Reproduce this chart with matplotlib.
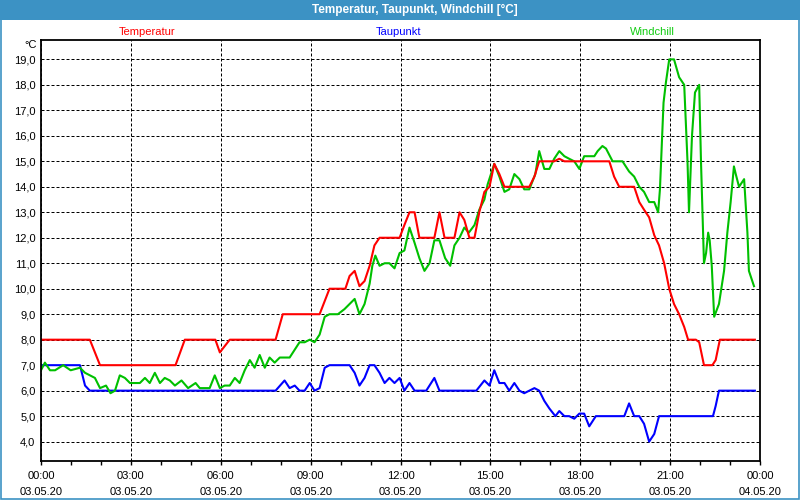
import matplotlib

matplotlib.use("Agg")
import matplotlib.dates as mdates
import matplotlib.pyplot as plt
import pandas as pd
from matplotlib.patches import Rectangle
from matplotlib.ticker import FuncFormatter, MultipleLocator

plt.rcParams["font.family"] = ["Liberation Sans", "DejaVu Sans"]

DAY = pd.Timestamp("2020-05-03")

# Temperatur (hours since 03.05.20 00:00, °C)
temp_hours = [0, 1.63, 1.97, 4.49, 4.8, 5.82, 5.97, 6.1, 6.3, 7.83, 8.07, 9.3, 9.63,
              10.16, 10.3, 10.47, 10.63, 10.8, 10.97, 11.13, 11.3, 11.97, 12.13, 12.3,
              12.47, 12.63, 13.13, 13.3, 13.47, 13.8, 13.97, 14.13, 14.3, 14.47, 14.63,
              14.8, 14.97, 15.13, 15.3, 15.47, 16.3, 16.47, 16.63, 17.13, 17.3, 17.47,
              18.97, 19.13, 19.3, 19.8, 19.97, 20.13, 20.3, 20.47, 20.63, 20.8, 20.97,
              21.13, 21.3, 21.47, 21.6, 21.86, 21.97, 22.13, 22.41, 22.52, 22.66, 23.83]
temp_values = [8.0, 8.0, 7.0, 7.0, 8.0, 8.0, 7.5, 7.7, 8.0, 8.0, 9.0, 9.0, 10.0,
               10.0, 10.5, 10.7, 10.1, 10.3, 10.9, 11.7, 12.0, 12.0, 12.5, 13.0,
               13.0, 12.0, 12.0, 13.0, 12.0, 12.0, 13.0, 12.7, 12.0, 12.0, 13.0,
               13.8, 14.0, 14.9, 14.5, 14.0, 14.0, 14.4, 15.0, 15.0, 15.1, 15.0,
               15.0, 14.4, 14.0, 14.0, 13.4, 13.1, 12.8, 12.1, 11.7, 11.0, 10.0,
               9.4, 9.0, 8.5, 8.0, 8.0, 7.9, 7.0, 7.0, 7.2, 8.0, 8.0]

# Taupunkt
dew_hours = [0, 1.3, 1.47, 1.63, 7.83, 8.13, 8.3, 8.47, 8.63, 8.8, 8.97, 9.13, 9.3,
             9.47, 9.63, 10.3, 10.47, 10.63, 10.8, 10.97, 11.13, 11.3, 11.47, 11.63,
             11.8, 11.97, 12.13, 12.3, 12.47, 12.86, 13.13, 13.3, 14.53, 14.8, 14.97,
             15.13, 15.3, 15.47, 15.63, 15.8, 15.97, 16.13, 16.3, 16.47, 16.63, 16.8,
             16.97, 17.17, 17.3, 17.47, 17.63, 17.8, 17.97, 18.13, 18.3, 18.52, 19.19,
             19.47, 19.63, 19.8, 19.97, 20.13, 20.3, 20.47, 20.63, 22.43, 22.52, 22.63,
             23.83]
dew_values = [7.0, 7.0, 6.2, 6.0, 6.0, 6.4, 6.1, 6.2, 6.0, 6.0, 6.3, 6.0, 6.1,
              6.9, 7.0, 7.0, 6.7, 6.2, 6.5, 7.0, 7.0, 6.7, 6.3, 6.5,
              6.3, 6.5, 6.0, 6.3, 6.0, 6.0, 6.5, 6.0, 6.0, 6.4, 6.2,
              6.8, 6.3, 6.3, 6.0, 6.3, 6.0, 5.9, 6.0, 6.1, 6.0, 5.6,
              5.3, 5.0, 5.2, 5.0, 5.0, 4.9, 5.1, 5.1, 4.6, 5.0, 5.0,
              5.0, 5.5, 5.0, 5.0, 4.7, 4.0, 4.3, 5.0, 5.0, 5.4, 6.0,
              6.0]

# Windchill
chill_hours = [0, 0.13, 0.3, 0.47, 0.74, 0.99, 1.3, 1.47, 1.8, 1.97, 2.17, 2.32, 2.47,
               2.63, 2.8, 2.97, 3.13, 3.3, 3.47, 3.63, 3.8, 3.97, 4.13, 4.3, 4.47, 4.69,
               4.91, 5.16, 5.3, 5.47, 5.63, 5.8, 5.97, 6.13, 6.3, 6.47, 6.63, 6.8, 6.97,
               7.13, 7.3, 7.47, 7.63, 7.8, 7.97, 8.3, 8.63, 8.8, 8.97, 9.13, 9.3, 9.47,
               9.63, 9.91, 10.13, 10.3, 10.47, 10.63, 10.8, 10.97, 11.06, 11.16, 11.3,
               11.47, 11.63, 11.8, 11.97, 12.13, 12.3, 12.47, 12.63, 12.8, 12.97, 13.13,
               13.3, 13.49, 13.66, 13.8, 13.97, 14.13, 14.28, 14.47, 14.63, 14.8, 14.91,
               15.13, 15.3, 15.47, 15.63, 15.8, 15.97, 16.13, 16.3, 16.5, 16.63, 16.8,
               16.97, 17.13, 17.3, 17.47, 17.63, 17.8, 17.97, 18.13, 18.3, 18.47, 18.58,
               18.74, 18.86, 19.08, 19.41, 19.63, 19.8, 19.97, 20.13, 20.3, 20.47, 20.6,
               20.66, 20.72, 20.78, 20.86, 20.97, 21.13, 21.3, 21.47, 21.58, 21.63, 21.73,
               21.83, 21.97, 22.03, 22.13, 22.2, 22.27, 22.32, 22.39, 22.47, 22.63, 22.8,
               22.91, 23.02, 23.13, 23.19, 23.3, 23.47, 23.58, 23.63, 23.8]
chill_values = [6.8, 7.1, 6.8, 6.8, 7.0, 6.8, 6.9, 6.7, 6.5, 6.1, 6.2, 5.9, 6.0,
                6.6, 6.5, 6.3, 6.3, 6.3, 6.5, 6.3, 6.7, 6.3, 6.5, 6.4, 6.2, 6.4,
                6.1, 6.3, 6.1, 6.1, 6.1, 6.6, 6.1, 6.2, 6.2, 6.5, 6.3, 6.8, 7.2,
                6.9, 7.4, 6.9, 7.3, 7.1, 7.3, 7.3, 7.9, 7.9, 8.0, 7.9, 8.2, 8.9,
                9.0, 9.0, 9.2, 9.4, 9.6, 9.0, 9.4, 10.2, 10.9, 11.3, 10.9,
                11.0, 11.0, 10.8, 11.4, 11.5, 12.4, 11.8, 11.2, 10.7, 11.0, 11.9,
                11.9, 11.2, 10.9, 11.7, 12.0, 12.4, 12.2, 12.5, 13.1, 13.5, 14.1,
                14.9, 14.4, 13.8, 13.9, 14.5, 14.3, 13.9, 13.9, 14.5, 15.4, 14.7,
                14.7, 15.1, 15.4, 15.2, 15.1, 15.0, 14.7, 15.2, 15.2, 15.2, 15.4,
                15.6, 15.5, 15.0, 15.0, 14.6, 14.4, 14.0, 13.8, 13.4, 13.4, 13.0,
                13.9, 15.6, 17.3, 18.1, 19.0, 19.0, 18.3, 18.0, 15.0, 13.0, 16.0,
                17.7, 18.0, 15.0, 11.0, 11.4, 12.2, 11.9, 10.9, 8.9, 9.4, 10.7,
                12.2, 13.4, 14.8, 14.5, 14.0, 14.3, 12.2, 10.7, 10.1]

series_names = ["Temperatur", "Taupunkt", "Windchill"]
series_colors = ["#ff0000", "#0000ff", "#00c000"]
label_colors = ["#ff0000", "#0000ff", "#11cc11"]


def to_times(hours):
    return DAY + pd.to_timedelta(hours, unit="h")


def main():
    fig = plt.figure(figsize=(8, 5), dpi=100, facecolor="white")
    ax = fig.add_axes([41 / 800, 1 - 461 / 500, 719 / 800, 421 / 500])

    ax.plot(to_times(temp_hours), temp_values, color=series_colors[0], lw=1.5, zorder=4)
    ax.plot(to_times(dew_hours), dew_values, color=series_colors[1], lw=1.5, zorder=3)
    ax.plot(to_times(chill_hours), chill_values, color=series_colors[2], lw=1.5, zorder=3)

    ax.set_xlim(DAY, DAY + pd.Timedelta(hours=24))
    ax.set_ylim(3.24, 19.76)

    ax.xaxis.set_major_locator(mdates.HourLocator(byhour=range(0, 24, 3)))
    ax.xaxis.set_minor_locator(mdates.HourLocator())
    ax.xaxis.set_major_formatter(mdates.DateFormatter("%H:%M\n%d.%m.%y"))
    ax.yaxis.set_major_locator(MultipleLocator(1))
    ax.yaxis.set_major_formatter(FuncFormatter(lambda v, _: f"{v:.1f}".replace(".", ",")))

    ax.tick_params(axis="x", which="both", direction="out", length=3, width=1,
                   pad=4, labelsize=8)
    ax.tick_params(axis="y", length=0, pad=4, labelsize=8)
    for lab in ax.get_xticklabels():
        lab.set_linespacing(1.75)

    ax.grid(True, which="major", color="black", linestyle=(0, (3, 2)), linewidth=0.72)
    for spine in ax.spines.values():
        spine.set_linewidth(1.3)
        spine.set_color("black")
        spine.set_zorder(6)

    # title bar
    fig.add_artist(Rectangle((0, 0.96), 1, 0.04, transform=fig.transFigure,
                             facecolor="#3c92c4", edgecolor="none"))
    fig.add_artist(Rectangle((0.001, 0.002), 0.998, 0.997, transform=fig.transFigure,
                             fill=False, edgecolor="#3c92c4", lw=1.2))
    fig.text(415 / 800, 1 - 10 / 500, "Temperatur, Taupunkt, Windchill [°C]",
             color="white", fontsize=8.5, fontweight="bold", ha="center", va="center")

    label_x = [147, 399, 652]
    for name, color, x in zip(series_names, label_colors, label_x):
        fig.text(x / 800, 1 - 32 / 500, name, color=color, fontsize=8,
                 ha="center", va="center")
    fig.text(37 / 800, 1 - 45 / 500, "°C", fontsize=8, ha="right", va="center")

    fig.savefig("out.png", dpi=100, facecolor="white")


if __name__ == "__main__":
    main()
